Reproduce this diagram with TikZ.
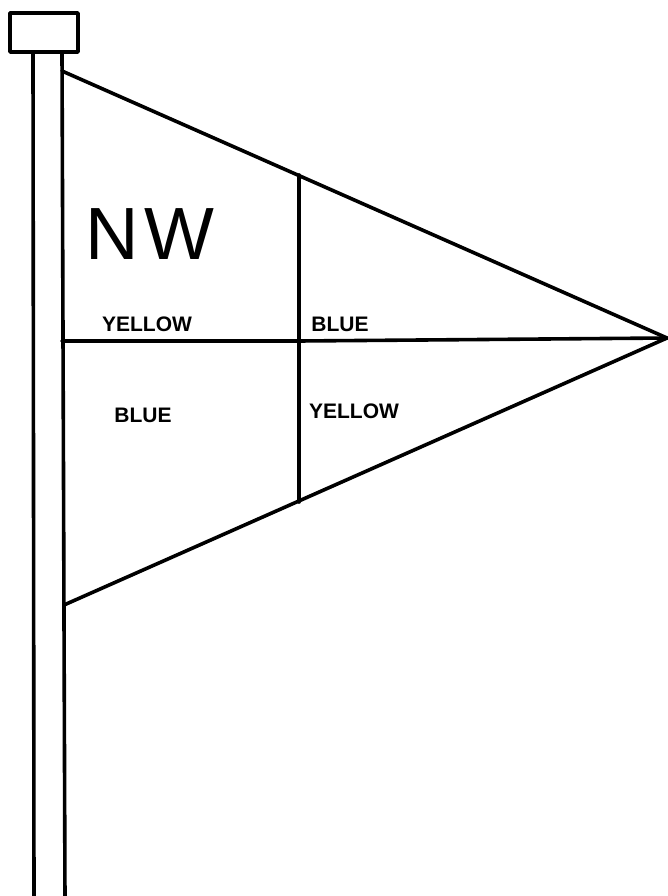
\documentclass[tikz,border=0pt]{standalone}
\usepackage{fontspec}
\setmainfont{Liberation Sans}
\tikzset{
  ink/.style={line width=3.6pt, line cap=round, line join=round},
  lbl/.style={font=\fontsize{21}{21}\selectfont\bfseries, inner sep=0pt, anchor=center},
  big/.style={font=\fontsize{74}{74}\selectfont, inner sep=0pt, anchor=center}
}
\begin{document}
\begin{tikzpicture}[x=1pt,y=-1pt]
\useasboundingbox (0,0) rectangle (668,896);
% cap
\draw[ink] (10,13) rectangle (78,52);
% pole
\coordinate (pl) at (33,52);
\coordinate (pr) at (62,52);
\coordinate (plb) at (34,900);
\coordinate (prb) at (65,900);
\draw[ink] (pl) -- (plb);
\draw[ink] (pr) -- (prb);
% flag
\coordinate (tl) at (62,71);
\coordinate (tip) at (667,338);
\coordinate (bl) at (64,605);
\coordinate (ml) at (62,341);
\coordinate (vt) at (299,175);
\coordinate (vb) at (299,502);
\coordinate (vm) at (299,341);
\draw[ink] (tl) -- (tip) -- (bl);
\draw[ink] (ml) -- (vm) -- (tip);
\draw[ink] (vt) -- (vb);
% texts
\node[big] (nw) at (150,234) {N\kern0.08em W};
\node[lbl] (y1) at (147,324) {YELLOW};
\node[lbl] (b1) at (340,324) {BLUE};
\node[lbl] (b2) at (143,415) {BLUE};
\node[lbl] (y2) at (354,411) {YELLOW};
\end{tikzpicture}
\end{document}
